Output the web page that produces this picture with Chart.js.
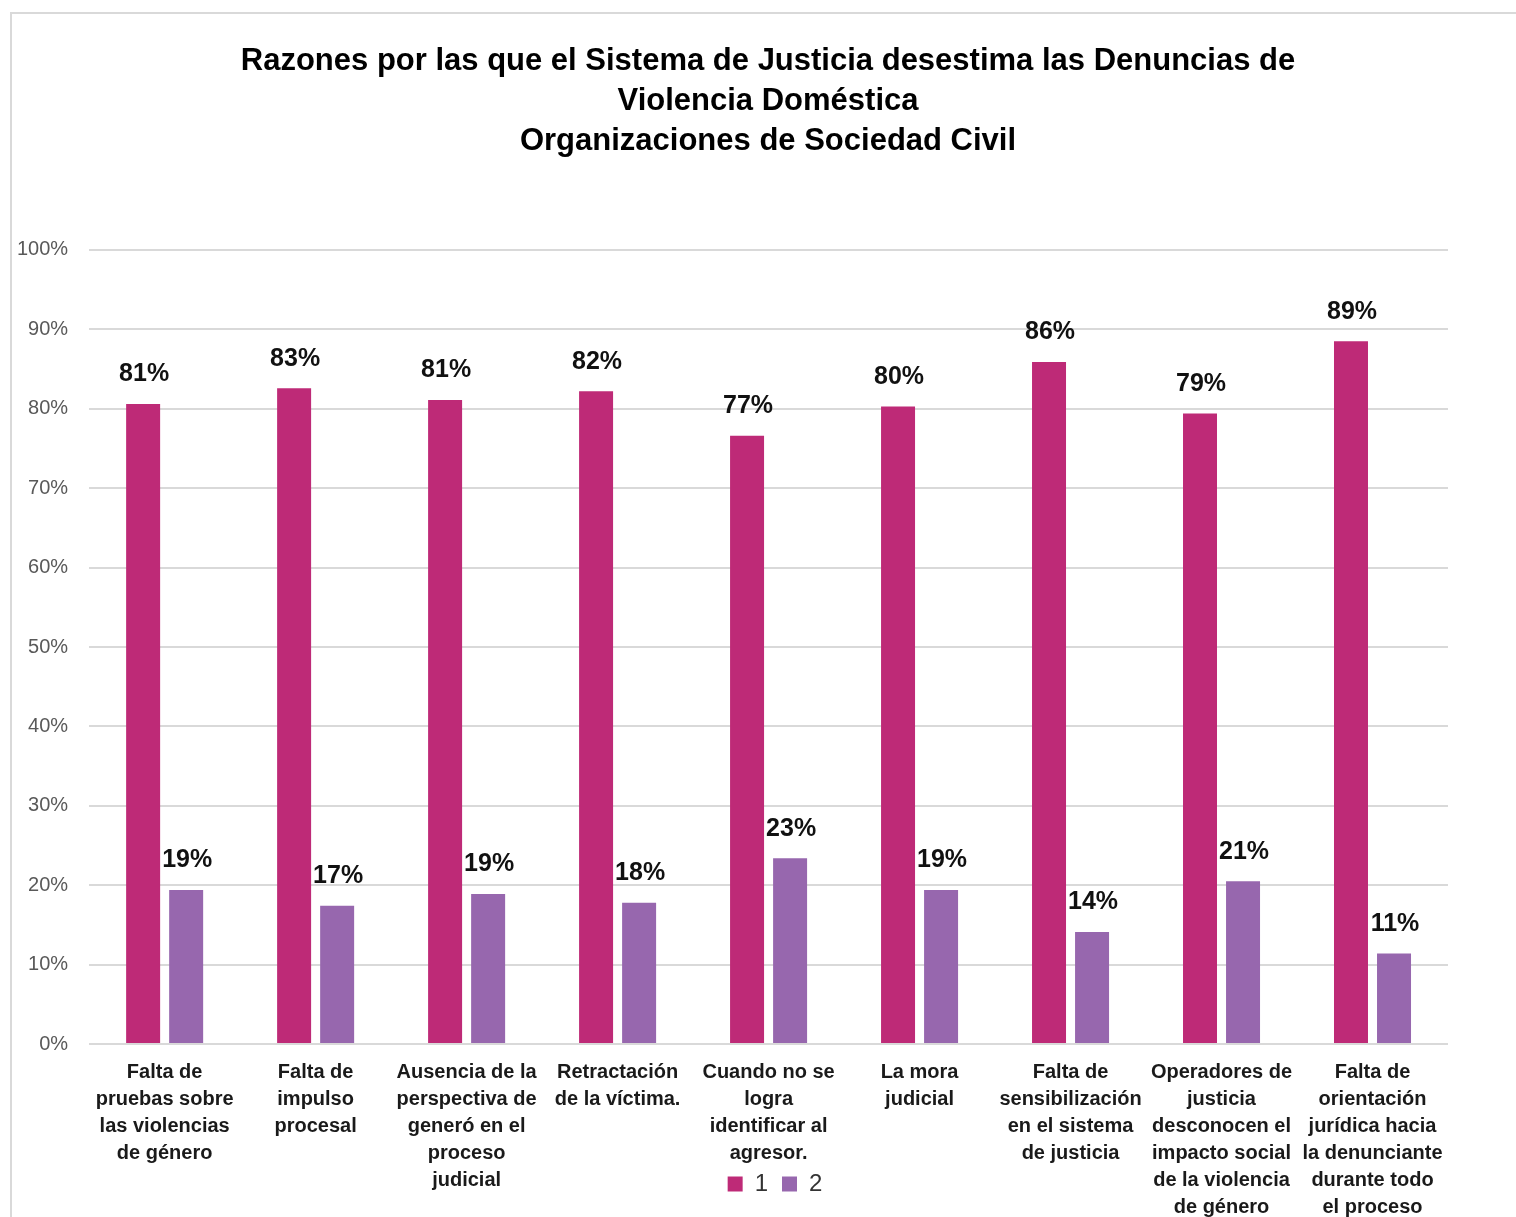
<!DOCTYPE html>
<html>
<head>
<meta charset="utf-8">
<script src="https://cdn.jsdelivr.net/npm/chart.js@4.4.1/dist/chart.umd.min.js"></script>
<style>
  html, body { margin: 0; padding: 0; background: #fff; overflow: hidden; }
  #frame {
    position: absolute; left: 10px; top: 12px; width: 1520px; height: 1220px;
    border-top: 2px solid #d9d9d9; border-left: 2px solid #d9d9d9;
  }
  #wrap { position: absolute; left: 0; top: 0; width: 1516px; height: 1276px; }
</style>
</head>
<body>
<div id="frame"></div>
<div id="wrap"><canvas id="chart"></canvas></div>
<script>
  const categories = [
    ['Falta de', 'pruebas sobre', 'las violencias', 'de género'],
    ['Falta de', 'impulso', 'procesal'],
    ['Ausencia de la', 'perspectiva de', 'generó en el', 'proceso', 'judicial'],
    ['Retractación', 'de la víctima.'],
    ['Cuando no se', 'logra', 'identificar al', 'agresor.'],
    ['La mora', 'judicial'],
    ['Falta de', 'sensibilización', 'en el sistema', 'de justicia'],
    ['Operadores de', 'justicia', 'desconocen el', 'impacto social', 'de la violencia', 'de género'],
    ['Falta de', 'orientación', 'jurídica hacia', 'la denunciante', 'durante todo', 'el proceso']
  ];
  const series1 = [80.6, 82.6, 81.1, 82.2, 76.6, 80.3, 85.9, 79.4, 88.5];
  const series2 = [19.4, 17.4, 18.9, 17.8, 23.4, 19.4, 14.1, 20.5, 11.4];
  const seriesNames = ['1', '2'];
  const titleLines = [
    'Razones por las que el Sistema de Justicia desestima las Denuncias de',
    'Violencia Doméstica',
    'Organizaciones de Sociedad Civil'
  ];

  const FONT = "'Liberation Sans', Arial, sans-serif";

  // value labels above each bar
  const barLabels = {
    id: 'barLabels',
    afterDatasetsDraw(chart) {
      const ctx = chart.ctx;
      ctx.save();
      ctx.font = 'bold 25px ' + FONT;
      ctx.fillStyle = '#111';
      ctx.textAlign = 'center';
      ctx.textBaseline = 'bottom';
      chart.data.datasets.forEach((ds, i) => {
        chart.getDatasetMeta(i).data.forEach((bar, j) => {
          ctx.fillText(Math.round(ds.data[j]) + '%', bar.x + 1, bar.y - 17);
        });
      });
      ctx.restore();
    }
  };

  // Excel puts the legend over the label area and centres title on the frame
  const boxShift = {
    id: 'boxShift',
    afterLayout(chart) {
      const lg = chart.legend;
      const h = lg.bottom - lg.top;
      lg.top = 1158;
      lg.bottom = lg.top + h;
      lg.left += 53;
      lg.right += 53;
      const t = chart.titleBlock;
      t.left += 46;
      t.right += 46;
    }
  };

  new Chart(document.getElementById('chart'), {
    type: 'bar',
    data: {
      labels: categories,
      datasets: [
        { label: seriesNames[0], data: series1, backgroundColor: '#be2a77' },
        { label: seriesNames[1], data: series2, backgroundColor: '#9767ae' }
      ]
    },
    options: {
      responsive: true,
      maintainAspectRatio: false,
      animation: false,
      categoryPercentage: 0.57,
      barPercentage: 0.79,
      layout: { padding: { left: -4, right: 68, top: 0, bottom: 0 } },
      plugins: {
        title: {
          display: true,
          text: titleLines,
          color: '#000',
          font: { family: FONT, size: 31, weight: 'bold', lineHeight: 1.29 },
          padding: { top: 41, bottom: 89 }
        },
        legend: {
          display: true,
          position: 'bottom',
          labels: {
            color: '#333',
            font: { family: FONT, size: 24 },
            boxWidth: 15,
            boxHeight: 15,
            padding: 14
          }
        },
        tooltip: { enabled: false }
      },
      scales: {
        x: {
          grid: { display: false },
          border: { display: false },
          ticks: {
            color: '#1a1a1a',
            font: { family: FONT, size: 20, weight: 'bold', lineHeight: 1.35 },
            maxRotation: 0,
            autoSkip: false,
            padding: 7
          }
        },
        y: {
          min: 0,
          max: 100,
          border: { display: false },
          grid: { color: '#d9d9d9', lineWidth: 2, drawTicks: false },
          ticks: {
            stepSize: 10,
            color: '#595959',
            font: { family: FONT, size: 20 },
            padding: 21,
            callback: v => v + '%'
          }
        }
      }
    },
    plugins: [barLabels, boxShift]
  });
</script>
</body>
</html>
